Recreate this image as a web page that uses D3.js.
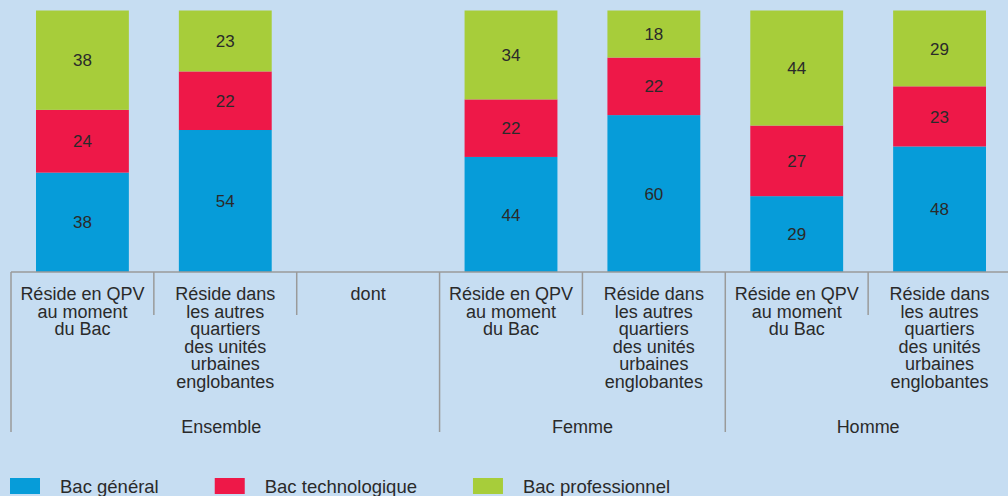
<!DOCTYPE html>
<html>
<head>
<meta charset="utf-8">
<script src="https://cdn.jsdelivr.net/npm/d3@7"></script>
<style>
  body { margin: 0; background: #c6ddf2; }
  svg { display: block; font-family: "Liberation Sans", Arial, sans-serif; }
</style>
</head>
<body>
<svg width="1008" height="496"></svg>
<script>
var svg = d3.select('svg');

var width = +svg.attr('width');
var height = +svg.attr('height');

// données
const categories = ["ens_qpv", "ens_autres", "dont", "fem_qpv", "fem_autres", "hom_qpv", "hom_autres"];
const categoryLabels = [
	["Réside en QPV", "au moment", "du Bac"],
	["Réside dans", "les autres", "quartiers", "des unités", "urbaines", "englobantes"],
	["dont"],
	["Réside en QPV", "au moment", "du Bac"],
	["Réside dans", "les autres", "quartiers", "des unités", "urbaines", "englobantes"],
	["Réside en QPV", "au moment", "du Bac"],
	["Réside dans", "les autres", "quartiers", "des unités", "urbaines", "englobantes"]
];
const groups = ["Ensemble", "Femme", "Homme"];
const groupStarts = ["ens_qpv", "fem_qpv", "hom_qpv"];
const groupSizes = [3, 2, 2];

const series = ["Bac général", "Bac technologique", "Bac professionnel"];
const bacGeneral       = [38, 54.3, null, 44, 60, 29, 48];
const bacTechnologique = [24, 22.4, null, 22, 22, 27, 23];
const bacProfessionnel = [38, 23.3, null, 34, 18, 44, 29];

const colors = ["#069cd9", "#ee1848", "#a7cd3a"];
const textColor = "#2a2a2a";
const axisColor = "#9a9a9a";

// tableau pour la pile
const table = categories.map((c, i) => ({
	cat: c,
	"Bac général": bacGeneral[i] || 0,
	"Bac technologique": bacTechnologique[i] || 0,
	"Bac professionnel": bacProfessionnel[i] || 0,
	empty: bacGeneral[i] === null
}));
const stacked = d3.stack().keys(series)(table);

// échelles
const axisY = 272;
const xScale = d3.scaleBand()
	.domain(categories)
	.range([11, 1011])
	.paddingInner(0.35)
	.paddingOuter(0.175);
const yScale = d3.scaleLinear()
	.domain([0, 100])
	.range([axisY, 10.5]);

const step = xScale.step();
const slotStart = c => xScale(c) - (step - xScale.bandwidth()) / 2;

// barres
const layers = svg.append('g').selectAll('g').data(stacked)
	.enter().append('g')
	.style('fill', (d, i) => colors[i]);

layers.selectAll('rect').data(d => d.filter(s => !s.data.empty))
	.enter().append('rect')
	.attr('x', d => xScale(d.data.cat))
	.attr('y', d => yScale(d[1]))
	.attr('width', xScale.bandwidth())
	.attr('height', d => yScale(d[0]) - yScale(d[1]));

// étiquettes des valeurs
layers.selectAll('text').data(d => d.filter(s => !s.data.empty))
	.enter().append('text')
	.attr('x', d => xScale(d.data.cat) + xScale.bandwidth() / 2)
	.attr('y', d => (yScale(d[0]) + yScale(d[1])) / 2)
	.attr('dy', '0.36em')
	.attr('text-anchor', 'middle')
	.style('fill', textColor)
	.style('font-size', '17px')
	.text(d => Math.round(d[1] - d[0]));

// axe
const axisG = svg.append('g');
axisG.append('line')
	.attr('x1', 11).attr('x2', width)
	.attr('y1', axisY).attr('y2', axisY)
	.style('stroke', axisColor).style('stroke-width', 1.5);

axisG.selectAll('line.tick').data(categories)
	.enter().append('line')
	.attr('class', 'tick')
	.attr('x1', d => slotStart(d)).attr('x2', d => slotStart(d))
	.attr('y1', axisY)
	.attr('y2', d => groupStarts.includes(d) ? 432 : 315)
	.style('stroke', axisColor).style('stroke-width', 1.5);

// libellés des catégories
const catText = axisG.selectAll('text.cat').data(categories)
	.enter().append('text')
	.attr('class', 'cat')
	.attr('x', d => xScale(d) + xScale.bandwidth() / 2)
	.attr('y', 300)
	.attr('text-anchor', 'middle')
	.style('fill', textColor)
	.style('font-size', '18px');
catText.selectAll('tspan').data((d, i) => categoryLabels[i])
	.enter().append('tspan')
	.attr('x', function() { return this.parentNode.getAttribute('x'); })
	.attr('dy', (d, i) => i == 0 ? 0 : 17.6)
	.text(d => d);

// libellés des groupes
axisG.selectAll('text.group').data(groups)
	.enter().append('text')
	.attr('class', 'group')
	.attr('x', (d, i) => slotStart(groupStarts[i]) + groupSizes[i] * step / 2 - (i == 0 ? 4 : 0))
	.attr('y', 433)
	.attr('text-anchor', 'middle')
	.style('fill', textColor)
	.style('font-size', '18px')
	.text(d => d);

// légende
const legend = svg.append('g');
let lx = 10;
series.forEach((s, i) => {
	legend.append('rect')
		.attr('x', lx).attr('y', 478)
		.attr('width', 30).attr('height', 16)
		.style('fill', colors[i]);
	const t = legend.append('text')
		.attr('x', lx + 50).attr('y', 493)
		.style('fill', textColor)
		.style('font-size', '18.5px')
		.text(s);
	lx = lx + 50 + t.node().getComputedTextLength() + 56;
});
</script>
</body>
</html>
